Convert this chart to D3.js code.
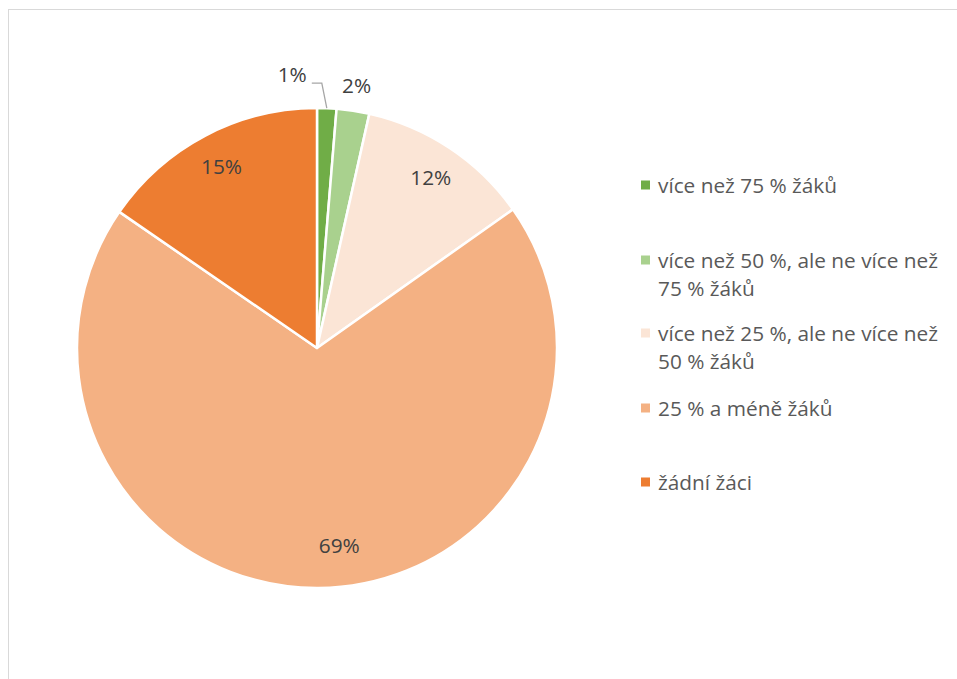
<!DOCTYPE html>
<html>
<head>
<meta charset="utf-8">
<script src="https://cdn.jsdelivr.net/npm/d3@7/dist/d3.min.js"></script>
<style>
  html, body { margin: 0; padding: 0; background: #fff; }
  svg { display: block; }
  text { font-family: "Open Sans", Lato, "Liberation Sans", sans-serif; }
</style>
</head>
<body>
<script>
// Share of schools by proportion of pupils (categories and shares in %)
const categories = [
  "více než 75 % žáků",
  "více než 50 %, ale ne více než 75 % žáků",
  "více než 25 %, ale ne více než 50 % žáků",
  "25 % a méně žáků",
  "žádní žáci"
];
const shares = [1.3, 2.2, 11.7, 69.4, 15.4];
const colors = ["#70AD47", "#A9D18E", "#FBE5D6", "#F4B183", "#ED7D31"];
// Legend text broken into display lines
const legendLines = [
  ["více než 75 % žáků"],
  ["více než 50 %, ale ne více než", "75 % žáků"],
  ["více než 25 %, ale ne více než", "50 % žáků"],
  ["25 % a méně žáků"],
  ["žádní žáci"]
];

const W = 957, H = 679;
const FS = 20.8;
const svg = d3.select("body").append("svg").attr("width", W).attr("height", H);

// chart area frame
svg.append("rect")
  .attr("x", 8.5).attr("y", 9.5)
  .attr("width", W + 20).attr("height", H + 20)
  .attr("fill", "none").attr("stroke", "#d9d9d9").attr("stroke-width", 1);

const cx = 317, cy = 348, R = 240;
const data = categories.map((c, i) => ({ cat: c, value: shares[i], color: colors[i], i }));

const pie = d3.pie().value(d => d.value).sort(null);
const arcs = pie(data);
const arc = d3.arc().innerRadius(0).outerRadius(R);

const g = svg.append("g").attr("transform", `translate(${cx},${cy})`);
g.selectAll("path.slice")
  .data(arcs)
  .join("path")
  .attr("class", "slice")
  .attr("d", arc)
  .attr("fill", d => d.data.color)
  .attr("stroke", "#fff")
  .attr("stroke-width", 2.5)
  .attr("stroke-linejoin", "round");

// label placement: inside slices at 0.86R, small slices pulled outside
const inArc = d3.arc().innerRadius(R * 0.855).outerRadius(R * 0.855);
const outArc = d3.arc().innerRadius(R * 1.1).outerRadius(R * 1.1);
const nudge = { 3: [21, -8] };

arcs.forEach((a, k) => {
  const txt = Math.round(a.data.value) + "%";
  if (a.data.value >= 5) {
    const [x, y] = inArc.centroid(a);
    const [dx, dy] = nudge[k] || [0, 0];
    g.append("text")
      .attr("x", x + dx).attr("y", y + dy)
      .attr("text-anchor", "middle").attr("dominant-baseline", "central")
      .attr("font-size", FS).attr("fill", "#404040")
      .text(txt);
  } else if (k === 0) {
    // tiny slice: label with a leader line
    const mid = (a.startAngle + a.endAngle) / 2;
    const ex = Math.sin(mid) * R, ey = -Math.cos(mid) * R;
    const bx = ex - 5, by = ey - 25;
    g.append("polyline")
      .attr("points", `${ex},${ey} ${bx},${by} ${bx - 10},${by}`)
      .attr("fill", "none").attr("stroke", "#a6a6a6").attr("stroke-width", 1.3);
    g.append("text")
      .attr("x", bx - 15).attr("y", by - 9)
      .attr("text-anchor", "end").attr("dominant-baseline", "central")
      .attr("font-size", FS).attr("fill", "#404040")
      .text(txt);
  } else {
    const [x, y] = outArc.centroid(a);
    g.append("text")
      .attr("x", x).attr("y", y - 2)
      .attr("text-anchor", "middle").attr("dominant-baseline", "central")
      .attr("font-size", FS).attr("fill", "#404040")
      .text(txt);
  }
});

// legend
const legendY = [185, 260, 333, 408, 482];
const lg = svg.append("g");
data.forEach((d, i) => {
  const y = legendY[i];
  lg.append("rect")
    .attr("x", 641).attr("y", y - 4.5)
    .attr("width", 9).attr("height", 9)
    .attr("fill", d.color);
  const t = lg.append("text")
    .attr("x", 658).attr("y", y)
    .attr("font-size", FS).attr("fill", "#595959")
    .attr("dominant-baseline", "central");
  legendLines[i].forEach((line, j) => {
    t.append("tspan").attr("x", 658).attr("dy", j === 0 ? 0 : 28).text(line);
  });
});
</script>
</body>
</html>
